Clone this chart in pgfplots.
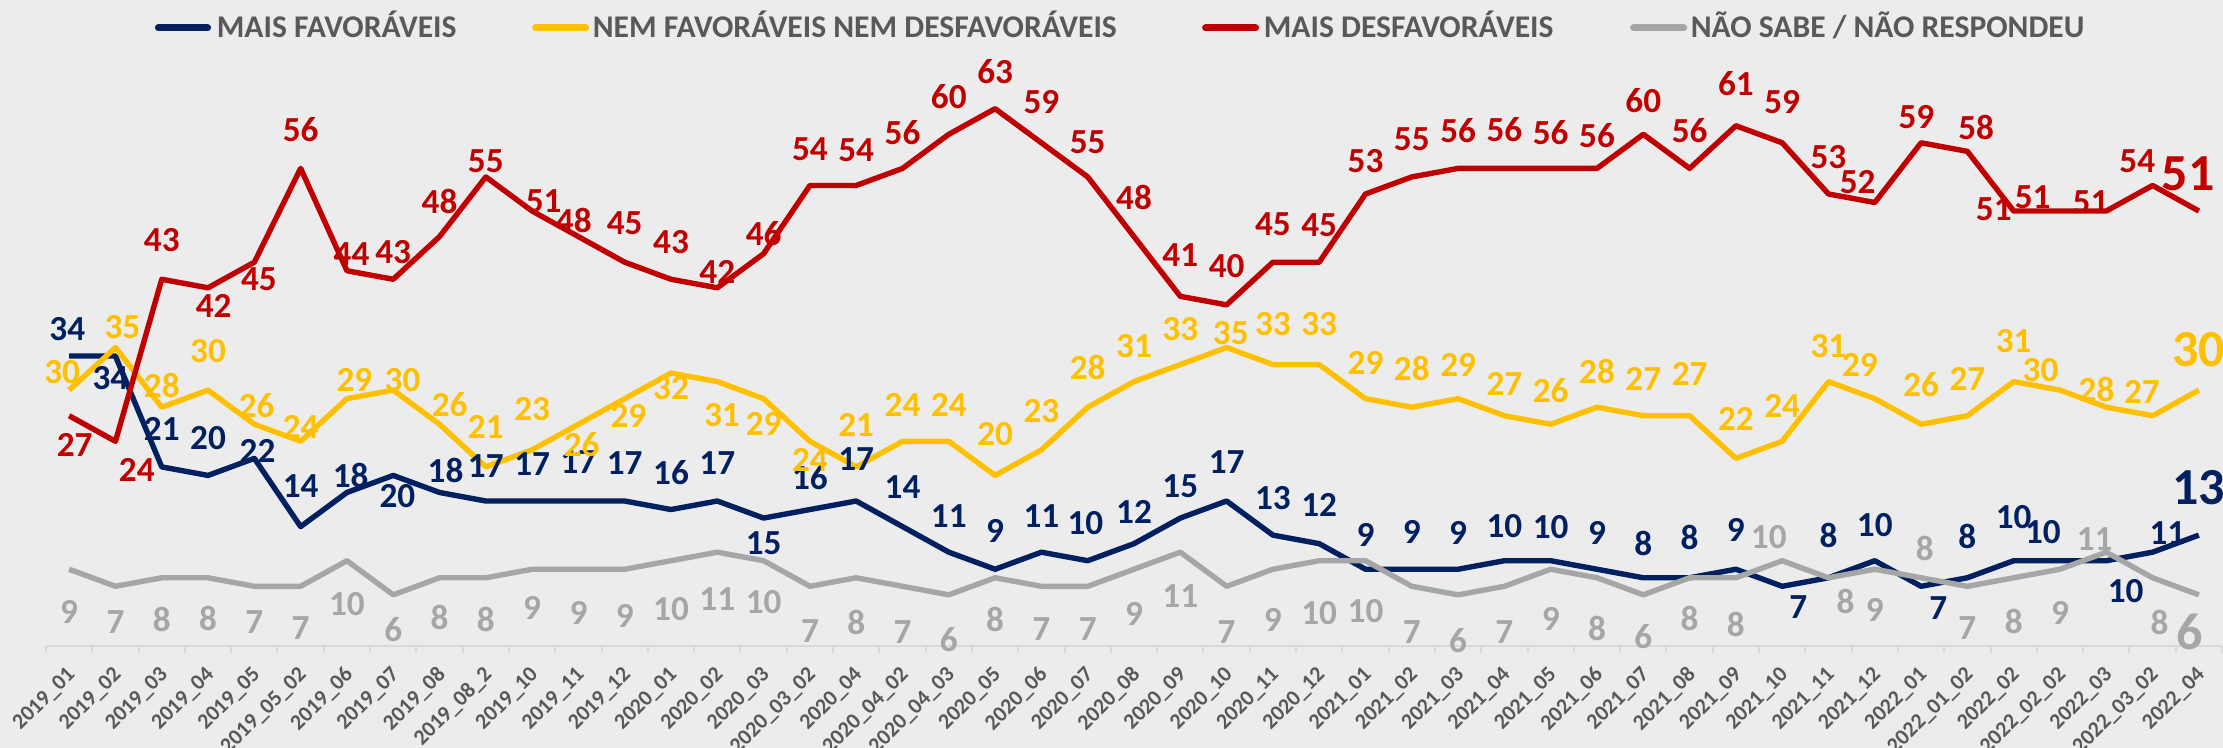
\documentclass[border=0pt]{standalone}
\usepackage{fontspec}
\setmainfont{Carlito}
\usepackage{pgfplots}
\usepackage{pgfplotstable}
\pgfplotsset{compat=1.18}
\definecolor{navycol}{HTML}{002060}
\definecolor{yelcol}{HTML}{FFC000}
\definecolor{redcol}{HTML}{C00000}
\definecolor{graycol}{HTML}{A6A6A6}
\definecolor{txtgray}{HTML}{595959}
\definecolor{axisgray}{HTML}{D9D9D9}
\definecolor{bgcol}{HTML}{ECECEC}

\pgfplotstableread{
x y dx dy
0 34 -0.04 3.2
1 34 -0.11 -2.6
2 21 0 4.5
3 20 0 4.4
4 22 0.07 0.9
5 14 0 4.7
6 18 0.08 2.0
7 20 0.09 -2.4
8 18 0.13 2.6
9 17 0 4.15
10 17 0 4.3
11 17 0 4.6
12 17 0 4.4
13 16 0 4.3
14 17 0 4.4
15 15 0 -2.9
16 16 0 3.8
17 17 0 4.9
18 14 0 4.6
19 11 0 4.2
20 9 0 4.5
21 11 0 4.2
22 10 -0.05 4.4
23 12 0 3.7
24 15 0 3.7
25 17 0 4.6
26 13 0 4.3
27 12 0 4.5
28 9 0 4.0
29 9 0 4.35
30 9 0 4.2
31 10 0 4.1
32 10 0 3.9
33 9 0 4.2
34 8 0 4.0
35 8 0 4.7
36 9 0 4.6
37 7 0.35 -2.4
38 8 0 5.0
39 10 0 4.2
40 7 0.37 -2.6
41 8 0 4.8
42 10 0 5.1
43 10 -0.37 3.4
44 10 0.42 -3.6
45 11 0.32 2.2
46 13 0 5.6
}\navytbl

\pgfplotstableread{
x y dx dy
0 30 -0.15 2.1
1 35 0.15 2.4
2 28 0 2.6
3 30 0 4.6
4 26 0.05 2.15
5 24 0 1.7
6 29 0.16 2.2
7 30 0.2 1.2
8 26 0.22 2.3
9 21 0 4.7
10 23 0 4.8
11 26 0.07 -2.4
12 29 0.08 -2.0
13 32 0 -1.7
14 31 0.1 -3.9
15 29 0 -3.0
16 24 0 -2.2
17 21 0 4.9
18 24 0 4.3
19 24 0 4.3
20 20 0 4.8
21 23 0 4.6
22 28 0 4.7
23 31 0 4.2
24 33 0 4.2
25 35 0.09 1.7
26 33 0 4.7
27 33 0 4.7
28 29 0 4.2
29 28 0 4.5
30 29 0 4.0
31 27 0 3.7
32 26 0 3.9
33 28 0 4.2
34 27 0 4.3
35 27 0 4.9
36 22 0 4.6
37 24 0 4.2
38 31 0 4.2
39 29 -0.32 4.0
40 26 0 4.7
41 27 0 4.3
42 31 0 4.75
43 30 -0.42 2.3
44 28 -0.21 2.1
45 27 -0.23 2.8
46 30 0 4.8
}\yeltbl

\pgfplotstableread{
x y dx dy
0 27 0.12 -3.4
1 24 0.46 -3.4
2 43 0 4.6
3 42 0.12 -2.1
4 45 0.1 -2.0
5 56 0 4.6
6 44 0.1 2.0
7 43 0 3.2
8 48 0 4.1
9 55 0 1.8
10 51 0.25 1.15
11 48 -0.1 1.95
12 45 0 4.6
13 43 0 4.4
14 42 0 1.8
15 46 0 2.4
16 54 0 4.3
17 54 0 4.1
18 56 0 4.2
19 60 0 4.4
20 63 0 4.4
21 59 0 4.8
22 55 0 4.1
23 48 0 4.6
24 41 0 4.8
25 40 0 4.6
26 45 0 4.5
27 45 0 4.3
28 53 0 3.9
29 55 0 4.45
30 56 0 4.4
31 56 0 4.6
32 56 0 4.2
33 56 0 3.8
34 60 0 3.9
35 56 0 4.4
36 61 0 4.9
37 59 0 4.8
38 53 0 4.3
39 52 -0.37 2.4
40 59 -0.1 3.0
41 58 0.19 2.8
42 51 -0.43 0.2
43 51 -0.59 1.6
44 51 -0.34 1.0
45 54 -0.33 2.9
46 51 -0.23 4.4
}\redtbl

\pgfplotstableread{
x y dx dy
0 9 0 -5.0
1 7 0 -4.2
2 8 0 -4.9
3 8 0 -4.75
4 7 0 -4.2
5 7 0 -4.9
6 10 0 -5.1
7 6 0 -4.1
8 8 0 -4.6
9 8 0 -4.9
10 9 0 -4.5
11 9 0 -5.1
12 9 0 -5.5
13 10 0 -5.7
14 11 0 -5.5
15 10 0 -4.9
16 7 0 -5.2
17 8 0 -5.3
18 7 0 -5.4
19 6 0 -5.2
20 8 0 -4.9
21 7 0 -5.0
22 7 0 -5.0
23 9 0 -5.25
24 11 0 -5.2
25 7 0 -5.4
26 9 0 -6.0
27 10 0 -6.1
28 10 0 -5.9
29 7 0 -5.4
30 6 0 -5.4
31 7 0 -5.4
32 9 0 -5.8
33 8 0 -6.0
34 6 0 -4.9
35 8 0 -4.75
36 8 0 -5.5
37 10 -0.29 2.8
38 8 0.37 -2.8
39 9 0 -4.75
40 8 0.08 3.4
41 7 0 -4.9
42 8 0 -5.1
43 9 0 -5.1
44 11 -0.25 1.5
45 8 0.15 -5.3
46 6 -0.2 -4.3
}\graytbl

\pgfplotsset{
  lab/.style={forget plot, only marks, mark=*, mark size=0pt,
    mark options={draw=none,fill=none},
    nodes near coords, point meta=explicit,
    nodes near coords style={anchor=center, inner sep=0pt, text=#1,
      font=\bfseries\fontsize{8.8}{9}\selectfont}},
  labbig/.style={lab=#1,
    nodes near coords style={font=\bfseries\fontsize{13}{13}\selectfont}},
  ser/.style={#1, line width=1.35pt, line join=round, mark=none},
}

\begin{document}
\begin{tikzpicture}
\path[use as bounding box, fill=bgcol] (-11.5pt,-25.5pt) rectangle (544.25pt,161.5pt);
\begin{axis}[
  at={(0,0)}, anchor=south west,
  scale only axis, width=544pt, height=149.25pt,
  xmin=-0.5, xmax=46.5, ymin=0, ymax=70,
  clip=false,
  axis x line*=bottom, axis y line=none,
  x axis line style={draw=axisgray, line width=0.6pt, -},
  xtick={0,...,46},
  xticklabels={2019\_01,2019\_02,2019\_03,2019\_04,2019\_05,2019\_05\_02,2019\_06,2019\_07,2019\_08,2019\_08\_2,2019\_10,2019\_11,2019\_12,2020\_01,2020\_02,2020\_03,2020\_03\_02,2020\_04,2020\_04\_02,2020\_04\_03,2020\_05,2020\_06,2020\_07,2020\_08,2020\_09,2020\_10,2020\_11,2020\_12,2021\_01,2021\_02,2021\_03,2021\_04,2021\_05,2021\_06,2021\_07,2021\_08,2021\_09,2021\_10,2021\_11,2021\_12,2022\_01,2022\_01\_02,2022\_02,2022\_02\_02,2022\_03,2022\_03\_02,2022\_04},
  minor xtick={-0.5,0.5,...,46.5},
  major tick length=0pt, minor tick length=1.7pt,
  tick align=outside,
  minor tick style={draw=axisgray, line width=0.5pt},
  major tick style={draw=none},
  xticklabel style={font=\bfseries\fontsize{5.5}{5.5}\selectfont, text=txtgray, inner sep=0pt, xshift=0.8pt, rotate=45, anchor=east},
  xticklabel shift=6.3pt,
  /pgf/number format/assume math mode=true,
]
\addplot[ser=navycol] table[x=x,y=y]{\navytbl};
\addplot[ser=yelcol] table[x=x,y=y]{\yeltbl};
\addplot[ser=redcol] table[x=x,y=y]{\redtbl};
\addplot[ser=graycol] table[x=x,y=y]{\graytbl};

\addplot[lab=navycol, skip coords between index={46}{47}] table[x expr=\thisrow{x}+\thisrow{dx}, y expr=\thisrow{y}+\thisrow{dy}, meta=y]{\navytbl};
\addplot[labbig=navycol, skip coords between index={0}{46}] table[x expr=\thisrow{x}+\thisrow{dx}, y expr=\thisrow{y}+\thisrow{dy}, meta=y]{\navytbl};
\addplot[lab=yelcol, skip coords between index={46}{47}] table[x expr=\thisrow{x}+\thisrow{dx}, y expr=\thisrow{y}+\thisrow{dy}, meta=y]{\yeltbl};
\addplot[labbig=yelcol, skip coords between index={0}{46}] table[x expr=\thisrow{x}+\thisrow{dx}, y expr=\thisrow{y}+\thisrow{dy}, meta=y]{\yeltbl};
\addplot[lab=redcol, skip coords between index={46}{47}] table[x expr=\thisrow{x}+\thisrow{dx}, y expr=\thisrow{y}+\thisrow{dy}, meta=y]{\redtbl};
\addplot[labbig=redcol, skip coords between index={0}{46}] table[x expr=\thisrow{x}+\thisrow{dx}, y expr=\thisrow{y}+\thisrow{dy}, meta=y]{\redtbl};
\addplot[lab=graycol, skip coords between index={46}{47}] table[x expr=\thisrow{x}+\thisrow{dx}, y expr=\thisrow{y}+\thisrow{dy}, meta=y]{\graytbl};
\addplot[labbig=graycol, skip coords between index={0}{46}] table[x expr=\thisrow{x}+\thisrow{dx}, y expr=\thisrow{y}+\thisrow{dy}, meta=y]{\graytbl};
\end{axis}
% legend
\begin{scope}[every node/.style={anchor=base west, inner sep=0pt, text=txtgray, font=\bfseries\fontsize{7.9}{8}\selectfont}]
\draw[navycol, line width=1.75pt, line cap=round] (28.1pt,154.5pt) -- (40.4pt,154.5pt);
\node at (42.5pt,152pt) {MAIS FAVORÁVEIS};
\draw[yelcol, line width=1.75pt, line cap=round] (122.4pt,154.5pt) -- (134.9pt,154.5pt);
\node at (136.5pt,152pt) {NEM FAVORÁVEIS NEM DESFAVORÁVEIS};
\draw[redcol, line width=1.75pt, line cap=round] (289.9pt,154.5pt) -- (302.4pt,154.5pt);
\node at (304.25pt,152pt) {MAIS DESFAVORÁVEIS};
\draw[graycol, line width=1.75pt, line cap=round] (396.9pt,154.5pt) -- (409.4pt,154.5pt);
\node at (411pt,152pt) {NÃO SABE / NÃO RESPONDEU};
\end{scope}
\end{tikzpicture}
\end{document}
